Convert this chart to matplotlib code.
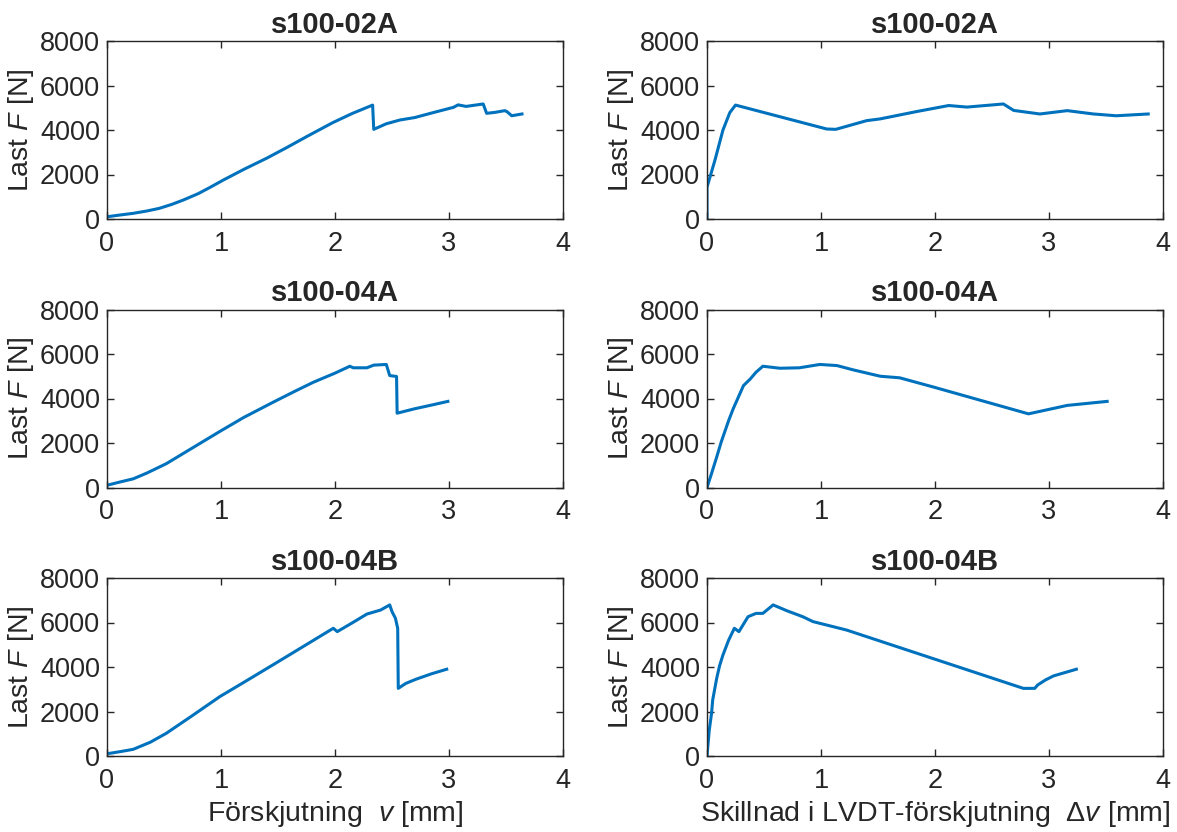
import matplotlib
matplotlib.use("Agg")
import matplotlib.pyplot as plt

plt.rcParams["font.family"] = ["Liberation Sans", "DejaVu Sans"]
plt.rcParams["mathtext.fontset"] = "custom"
plt.rcParams["mathtext.rm"] = "Liberation Sans"
plt.rcParams["mathtext.it"] = "Liberation Sans:italic"
plt.rcParams["mathtext.bf"] = "Liberation Sans:bold"

# ---- measured load-displacement curves ----
titles = ["s100-02A", "s100-04A", "s100-04B"]

# Förskjutning v [mm] vs last F [N]
v_02A = [0.0, 0.10, 0.23, 0.35, 0.46, 0.57, 0.67, 0.80, 0.90, 1.02, 1.20, 1.40,
         1.58, 1.75, 1.98, 2.15, 2.33, 2.34, 2.45, 2.57, 2.70, 2.86, 3.04,
         3.08, 3.15, 3.30, 3.33, 3.40, 3.49, 3.51, 3.55, 3.64]
F_02A = [100, 170, 255, 360, 480, 660, 854, 1140, 1410, 1750, 2230, 2730,
         3220, 3700, 4330, 4740, 5120, 4030, 4280, 4450, 4560, 4780, 5020,
         5130, 5060, 5170, 4750, 4790, 4870, 4820, 4640, 4720]

v_04A = [0.0, 0.10, 0.23, 0.35, 0.52, 0.75, 0.99, 1.20, 1.46, 1.65, 1.81, 2.00,
         2.13, 2.16, 2.28, 2.34, 2.45, 2.48, 2.54, 2.545, 2.70, 2.86, 2.99]
F_04A = [100, 230, 390, 650, 1070, 1780, 2520, 3150, 3840, 4330, 4730, 5140,
         5450, 5380, 5380, 5500, 5530, 5030, 4990, 3340, 3540, 3720, 3870]

v_04B = [0.0, 0.12, 0.23, 0.38, 0.52, 0.75, 0.99, 1.20, 1.46, 1.75, 1.985, 2.02,
         2.15, 2.28, 2.40, 2.48, 2.50, 2.53, 2.55, 2.555, 2.62, 2.71, 2.85, 2.98]
F_04B = [100, 200, 300, 620, 1020, 1820, 2670, 3310, 4110, 5010, 5740, 5590,
         5980, 6380, 6560, 6790, 6490, 6190, 5740, 3040, 3260, 3450, 3700, 3900]

# Skillnad i LVDT-förskjutning dv [mm] vs last F [N]
dv_02A = [0.0, 0.0, 0.07, 0.14, 0.20, 0.25, 1.05, 1.13, 1.40, 1.52, 1.84, 2.12,
          2.28, 2.60, 2.69, 2.92, 3.16, 3.39, 3.59, 3.87]
G_02A = [0, 1425, 2650, 4000, 4780, 5120, 4045, 4030, 4420, 4500, 4830, 5100,
         5030, 5170, 4880, 4720, 4870, 4720, 4640, 4720]

dv_04A = [0.0, 0.04, 0.085, 0.125, 0.19, 0.23, 0.275, 0.32, 0.38, 0.43, 0.49,
          0.64, 0.81, 0.99, 1.14, 1.28, 1.52, 1.69, 1.99, 2.82, 3.16, 3.51]
G_04A = [0, 630, 1370, 2050, 3010, 3540, 4060, 4580, 4880, 5180, 5450,
         5360, 5380, 5530, 5480, 5290, 5000, 4930, 4510, 3310, 3690, 3870]

dv_04B = [0.0, 0.02, 0.04, 0.05, 0.085, 0.11, 0.14, 0.19, 0.24, 0.28, 0.36,
          0.43, 0.49, 0.58, 0.70, 0.84, 0.93, 1.225, 2.775, 2.875, 2.90,
          2.97, 3.04, 3.24]
G_04B = [0, 1170, 1920, 2520, 3490, 4050, 4540, 5210, 5740, 5590, 6260,
         6410, 6410, 6790, 6530, 6260, 6040, 5660, 3040, 3040, 3190,
         3420, 3600, 3900]

left_x = [v_02A, v_04A, v_04B]
left_y = [F_02A, F_04A, F_04B]
right_x = [dv_02A, dv_04A, dv_04B]
right_y = [G_02A, G_04A, G_04B]

xticks = [0, 1, 2, 3, 4]
yticks = [0, 2000, 4000, 6000, 8000]

LINE = "#0072BD"
INK = "#262626"
FS_TICK = 19.5
FS_LAB = 20.5
FS_TITLE = 21

fig = plt.figure(figsize=(11.77, 8.32), dpi=100)

ax_w, ax_h = 456 / 1177, 178 / 832
lefts = [107 / 1177, 707 / 1177]
bottoms = [1 - 219 / 832, 1 - 487.5 / 832, 1 - 756 / 832]

for r in range(3):
    for c in range(2):
        ax = fig.add_axes([lefts[c], bottoms[r], ax_w, ax_h])
        xs = left_x[r] if c == 0 else right_x[r]
        ys = left_y[r] if c == 0 else right_y[r]
        ax.plot(xs, ys, color=LINE, lw=2.2, solid_joinstyle="round")
        ax.set_xlim(0, 4)
        ax.set_ylim(0, 8000)
        ax.set_xticks(xticks)
        ax.set_yticks(yticks)
        ax.set_xticklabels([str(t) for t in xticks])
        ax.set_yticklabels([str(t) for t in yticks])
        ax.tick_params(direction="in", length=5, width=1, top=True, right=True,
                       labelsize=FS_TICK, colors=INK)
        ax.tick_params(axis="y", pad=5)
        ax.tick_params(axis="x", pad=8.5)
        for sp in ax.spines.values():
            sp.set_color(INK)
            sp.set_linewidth(1)
        ax.set_title(titles[r], fontsize=FS_TITLE, fontweight="bold", color=INK, pad=6)
        ax.set_ylabel("Last $F$ [N]", fontsize=FS_LAB, color=INK)
        ax.yaxis.set_label_coords(-0.155, 0.5)
        if r == 2:
            if c == 0:
                ax.set_xlabel("Förskjutning  $v$ [mm]", fontsize=FS_LAB, color=INK,
                              labelpad=3.5)
            else:
                ax.set_xlabel("Skillnad i LVDT-förskjutning  $\\Delta v$ [mm]",
                              fontsize=FS_LAB, color=INK, labelpad=3.5)

fig.savefig("out.png", dpi=100, facecolor="white")
